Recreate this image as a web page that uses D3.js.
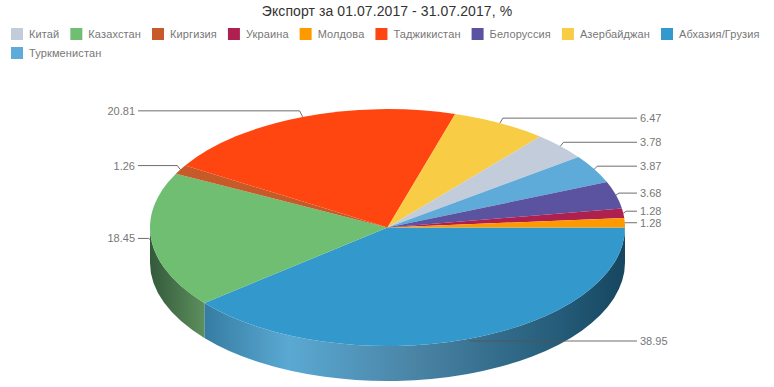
<!DOCTYPE html>
<html>
<head>
<meta charset="utf-8">
<script src="https://cdn.jsdelivr.net/npm/d3@7"></script>
<style>
  html, body { margin: 0; padding: 0; background: #fff; }
  svg { display: block; font-family: "Liberation Sans", sans-serif; }
</style>
</head>
<body>
<svg id="chart" width="774" height="387"></svg>
<script>
const titleText = 'Экспорт за 01.07.2017 - 31.07.2017, %'

// legend order
const legendNames = ['Китай', 'Казахстан', 'Киргизия', 'Украина', 'Молдова', 'Таджикистан', 'Белоруссия', 'Азербайджан', 'Абхазия/Грузия', 'Туркменистан']
const legendColours = ['#c3ccda', '#6fbe72', '#c65a28', '#ae2050', '#ff9900', '#ff4610', '#5c53a0', '#f9cc45', '#3398cc', '#5eaad8']

// slice order, clockwise from 3 o'clock
const sliceNames = ['Абхазия/Грузия', 'Казахстан', 'Киргизия', 'Таджикистан', 'Азербайджан', 'Китай', 'Туркменистан', 'Белоруссия', 'Украина', 'Молдова']
const sliceValues = [38.95, 18.45, 1.26, 20.81, 6.47, 3.78, 3.87, 3.68, 1.28, 1.28]

const width = 774
const cx = 387.5
const cy = 227.5
const rx = 237.5
const ry = 118.5
const depth = 35

const colourOf = name => legendColours[legendNames.indexOf(name)]

// side wall shading, keyed by slice: [offset, colour]
const wallStops = {
  'Абхазия/Грузия': [[0, '#367ca2'], [0.2, '#5aa9d3'], [0.5, '#4a84a5'], [0.85, '#235b78'], [1, '#17465f']],
  'Казахстан': [[0, '#33593a'], [1, '#5d8f5d']]
}

// label shift from the leader's anchor point, in slice order
const labelNudge = [2, -2, -4, -6, -5, -4, -3, -2, -2, 0]

const svg = d3.select('#chart')
const defs = svg.append('defs')

svg.append('text')
  .attr('x', width / 2)
  .attr('y', 16)
  .attr('text-anchor', 'middle')
  .attr('font-size', 14)
  .attr('letter-spacing', 0.08)
  .attr('fill', '#333')
  .text(titleText)

// Legend, flowed and wrapped by measured text width
const legend = svg.append('g')
let lx = 11
let ly = 28
legendNames.forEach((name, i) => {
  const g = legend.append('g')
  const label = g.append('text')
    .attr('x', 18)
    .attr('y', 10)
    .attr('font-size', 11)
    .attr('letter-spacing', 0.12)
    .attr('fill', '#777')
    .text(name)
  g.append('rect')
    .attr('width', 12)
    .attr('height', 12)
    .attr('fill', legendColours[i])
  const w = 18 + label.node().getComputedTextLength()
  if (lx + w > width - 10) {
    lx = 11
    ly += 19
  }
  g.attr('transform', `translate(${lx},${ly})`)
  lx += w + 11
})

const pie = d3.pie()
  .sort(null)
  .startAngle(Math.PI / 2)
  .endAngle(Math.PI * 2.5)
const arcs = pie(sliceValues)

const px = a => cx + rx * Math.sin(a)
const py = a => cy - ry * Math.cos(a)

// Side walls, only the front half of the ellipse shows
const walls = svg.append('g')
arcs.forEach((d, i) => {
  const a0 = Math.max(d.startAngle, Math.PI / 2)
  const a1 = Math.min(d.endAngle, Math.PI * 1.5)
  if (a1 <= a0) return

  const id = 'wall' + i
  const xs = d3.range(0, 41).map(t => px(a0 + (a1 - a0) * t / 40))
  const xExtent = d3.extent(xs)
  const grad = defs.append('linearGradient')
    .attr('id', id)
    .attr('gradientUnits', 'userSpaceOnUse')
    .attr('x1', xExtent[0])
    .attr('x2', xExtent[1])
    .attr('y1', 0)
    .attr('y2', 0)
  wallStops[sliceNames[i]].forEach(s => {
    grad.append('stop').attr('offset', s[0]).attr('stop-color', s[1])
  })

  walls.append('path')
    .attr('fill', `url(#${id})`)
    .attr('d', `M${px(a0)},${py(a0)}` +
      `A${rx},${ry} 0 0 1 ${px(a1)},${py(a1)}` +
      `L${px(a1)},${py(a1) + depth}` +
      `A${rx},${ry} 0 0 0 ${px(a0)},${py(a0) + depth}Z`)
})

// Top face
const arc = d3.arc().innerRadius(0).outerRadius(1)
svg.append('g')
  .attr('transform', `translate(${cx},${cy}) scale(${rx},${ry})`)
  .selectAll('path')
  .data(arcs)
  .join('path')
  .attr('fill', (d, i) => colourOf(sliceNames[i]))
  .attr('d', arc)

// Leader lines and value labels
const labels = svg.append('g')
arcs.forEach((d, i) => {
  const mid = (d.startAngle + d.endAngle) / 2
  const right = Math.sin(mid) > 0
  const ax = px(mid)
  const ay = py(mid)
  const ty = ay + labelNudge[i]
  const endX = right ? 637 : 138

  labels.append('path')
    .attr('fill', 'none')
    .attr('stroke', '#555')
    .attr('stroke-opacity', 0.85)
    .attr('d', `M${ax},${ay}L${ax + (right ? 3 : -3)},${ty}L${endX},${ty}`)

  labels.append('text')
    .attr('x', right ? 640 : 135)
    .attr('y', ty + 4)
    .attr('text-anchor', right ? 'start' : 'end')
    .attr('font-size', 11)
    .attr('fill', '#777')
    .text(d3.format('.2f')(sliceValues[i]))
})
</script>
</body>
</html>
